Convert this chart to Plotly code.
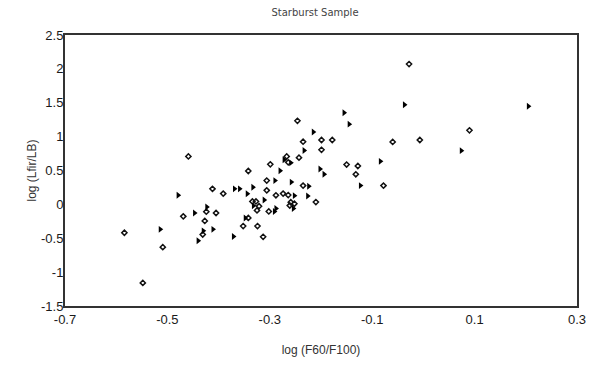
import plotly.graph_objects as go

# Open diamonds: log(F60/F100), log(Lfir/LB)
diamond_x = [-0.246, -0.459, -0.267, -0.243, -0.264, -0.299, -0.028, 0.090, -0.235, -0.199,
             -0.178, -0.060, -0.007, -0.199, -0.150, -0.128, -0.132, -0.078, -0.235, -0.210,
             -0.342, -0.306, -0.412, -0.391, -0.306, -0.288, -0.274, -0.264, -0.334, -0.327,
             -0.321, -0.325, -0.302, -0.259, -0.252, -0.261, -0.424, -0.405, -0.469, -0.427,
             -0.342, -0.352, -0.324, -0.584, -0.431, -0.313, -0.509, -0.548]
diamond_y = [1.233, 0.708, 0.708, 0.690, 0.620, 0.591, 2.071, 1.093, 0.925, 0.950,
             0.950, 0.922, 0.950, 0.805, 0.588, 0.566, 0.444, 0.277, 0.277, 0.034,
             0.493, 0.351, 0.229, 0.159, 0.207, 0.134, 0.159, 0.137, 0.043, 0.043,
             -0.027, -0.089, -0.104, 0.031, 0.009, -0.017, -0.108, -0.127, -0.177, -0.244,
             -0.200, -0.320, -0.320, -0.419, -0.445, -0.479, -0.631, -1.159]

# Filled triangles
tri_x = [-0.037, 0.205, -0.155, -0.145, -0.215, -0.233, 0.074, -0.084, -0.202, -0.194,
         -0.123, -0.224, -0.226, -0.272, -0.259, -0.280, -0.290, -0.258, -0.369, -0.359,
         -0.333, -0.344, -0.252, -0.479, -0.311, -0.332, -0.288, -0.291, -0.254, -0.423,
         -0.447, -0.348, -0.514, -0.411, -0.430, -0.440, -0.371]
tri_y = [1.471, 1.448, 1.353, 1.184, 1.068, 0.796, 0.793, 0.635, 0.522, 0.444,
         0.277, 0.268, 0.123, 0.658, 0.613, 0.496, 0.351, 0.329, 0.229, 0.229,
         0.254, 0.156, 0.129, 0.135, 0.065, -0.020, -0.060, -0.104, -0.060, -0.039,
         -0.127, -0.200, -0.369, -0.369, -0.391, -0.536, -0.474]

x_ticks = [-0.7, -0.5, -0.3, -0.1, 0.1, 0.3]
x_tick_text = ["-0.7", "-0.5", "-0.3", "-0.1", "0.1", "0.3"]
y_ticks = [-1.5, -1, -0.5, 0, 0.5, 1, 1.5, 2, 2.5]
y_tick_text = ["-1.5", "-1", "-0.5", "0", "0.5", "1", "1.5", "2", "2.5"]

fig = go.Figure()
fig.add_trace(go.Scatter(
    x=diamond_x, y=diamond_y, mode="markers",
    marker=dict(symbol="diamond-open", size=4, color="#111", line=dict(width=1.5, color="#111")),
    showlegend=False))
fig.add_trace(go.Scatter(
    x=tri_x, y=tri_y, mode="markers",
    marker=dict(symbol="triangle-right", size=6, color="#000", line=dict(width=0)),
    showlegend=False))

fig.update_layout(
    width=608, height=367,
    margin=dict(l=65, r=31, t=35, b=59),
    paper_bgcolor="white", plot_bgcolor="white",
    font=dict(family="Liberation Sans, Arial, sans-serif", color="#222"),
    title=dict(text="Starburst Sample", x=315 / 608, xanchor="center",
               y=1 - 12 / 367, yanchor="middle",
               font=dict(size=10, color="#444", family="DejaVu Sans, sans-serif")),
)
fig.update_xaxes(
    range=[-0.7, 0.3], tickvals=x_ticks, ticktext=x_tick_text,
    showgrid=False, zeroline=False, ticks="",
    showline=True, linecolor="#333", linewidth=2, mirror=True,
    tickfont=dict(size=13, color="#1a1a1a"),
    title=dict(text="log (F60/F100)", font=dict(size=12, color="#333"), standoff=20),
)
fig.update_yaxes(
    range=[-1.5, 2.5], tickvals=y_ticks, ticktext=y_tick_text,
    showgrid=False, zeroline=False, ticks="",
    showline=True, linecolor="#333", linewidth=2, mirror=True,
    tickfont=dict(size=13, color="#1a1a1a"), ticklabelstandoff=-3,
    title=dict(text="log (Lfir/LB)", font=dict(size=12, color="#333"), standoff=2),
)

fig.write_html("out.html")
